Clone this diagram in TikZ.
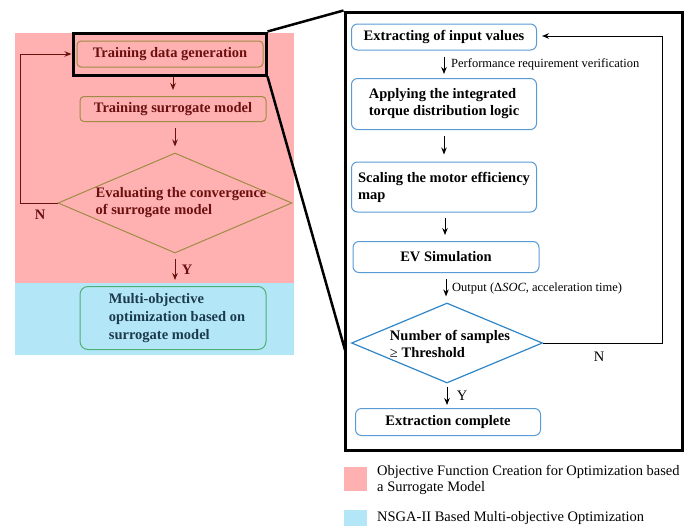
\documentclass[tikz,border=0pt]{standalone}
\usepackage{fontspec}
\setmainfont{Liberation Serif}
\usetikzlibrary{shapes.geometric,arrows.meta,calc}
\definecolor{pinkbg}{HTML}{FFB1B1}
\definecolor{bluebg}{HTML}{B3E6F7}
\definecolor{darkred}{HTML}{6B0F0F}
\definecolor{oliveb}{HTML}{A08B45}
\definecolor{greenb}{HTML}{4DB074}
\definecolor{navytext}{HTML}{1B3A4B}
\definecolor{blueb}{HTML}{5B9BD5}
\definecolor{blued}{HTML}{2F86C8}
\tikzset{
  bigfont/.style={font=\bfseries\fontsize{14.5}{17}\selectfont},
  smallfont/.style={font=\fontsize{12.5}{14}\selectfont},
  lbox/.style={draw=oliveb, fill=pinkbg, rounded corners=4pt, line width=1pt, text=darkred, bigfont, inner sep=2pt},
  gbox/.style={draw=greenb, fill=bluebg, rounded corners=8pt, line width=1pt, inner sep=0pt},
  ldiam/.style={diamond, draw=oliveb, fill=pinkbg, line width=1pt, inner sep=0pt},
  rbox/.style={draw=blueb, fill=white, rounded corners=6pt, line width=1pt, text=black, bigfont, align=left, inner sep=2pt},
  rdiam/.style={diamond, draw=blued, fill=white, line width=1.2pt, inner sep=0pt},
  larr/.style={draw=darkred, line width=1pt, -{Stealth[length=7pt,width=5.5pt]}},
  rarr/.style={draw=black, line width=1pt, -{Stealth[length=7pt,width=5.5pt]}},
  zoomframe/.style={draw=black, line width=3pt, inner sep=0pt},
}
\begin{document}
\begin{tikzpicture}[x=1pt,y=-1pt]
\useasboundingbox (0,0) rectangle (684,525);
% background regions
\fill[pinkbg] (15,33) rectangle (294,283);
\fill[bluebg] (15,283) rectangle (294,355);

% left flow
\node[lbox, minimum width=186pt, minimum height=26pt] (tdg) at (170,54) {Training data generation};
\node[lbox, minimum width=186pt, minimum height=25pt] (tsm) at (173,109) {Training surrogate model};
\node[ldiam, minimum width=234pt, minimum height=100pt] (eval) at (175,203) {};
\node[bigfont, text=darkred, align=left, inner sep=0pt] (evalt) at (181,203) {Evaluating the convergence\\of surrogate model};
\node[gbox, minimum width=186pt, minimum height=63pt] (moo) at (173,318) {};
\node[bigfont, text=navytext, align=left, inner sep=0pt, font=\bfseries\fontsize{14.5}{18}\selectfont] (moot) at (177,318) {Multi-objective\\optimization based on\\surrogate model};

\draw[larr, shorten <=8pt, shorten >=6pt] (tdg.south -| tsm.north) -- (tsm.north);
\draw[larr, shorten <=6pt, shorten >=6pt] (tsm.south -| eval.north) -- (eval.north);
\draw[larr, shorten <=5pt, shorten >=6pt] (eval.south) -- (moo.north -| eval.south) node[midway, right=3pt, bigfont, text=darkred] (ly) {Y};
\coordinate (lloop) at (20,54);
\draw[larr, shorten >=5pt] (eval.west) -| (lloop) -- (tdg.west);
\node[bigfont, text=darkred] (ln) at (40,215) {N};

% zoom frames
\node[zoomframe, minimum width=193pt, minimum height=42pt] (zf) at (169.5,54) {};
\node[zoomframe, minimum width=337pt, minimum height=438pt] (big) at (513.5,231) {};
\coordinate (bw) at (345,350);
\draw[line width=2.5pt] (zf.north east) -- (big.north west);
\draw[line width=2.5pt] (zf.south east) -- (bw);

% right flow
\node[rbox, minimum width=185pt, minimum height=26pt] (ext) at (444,37) {Extracting of input values};
\node[rbox, minimum width=185pt, minimum height=51pt] (app) at (444,104) {Applying the integrated\\torque distribution logic};
\node[rbox, minimum width=185pt, minimum height=50pt] (scl) at (444,187) {Scaling the motor efficiency\\map};
\node[rbox, minimum width=186pt, minimum height=31pt] (evs) at (446,257) {EV Simulation};
\node[rdiam, minimum width=191pt, minimum height=80pt] (num) at (447,343) {};
\node[bigfont, align=left, inner sep=0pt] (numt) at (450,344) {Number of samples\\{\mdseries ≥} Threshold};
\node[rbox, minimum width=185pt, minimum height=27pt] (done) at (448,422) {Extraction complete};

\draw[rarr, shorten <=6pt, shorten >=4pt] (ext.south -| 444,0) -- (app.north -| 444,0);
\node[smallfont, anchor=west, inner sep=0pt] (prv) at (451,64) {Performance requirement verification};
\draw[rarr, shorten <=6pt, shorten >=7pt] (app.south -| 444,0) -- (scl.north -| 444,0);
\draw[rarr, shorten <=5pt, shorten >=6pt] (scl.south -| 445,0) -- (evs.north -| 445,0);
\draw[rarr, shorten <=6pt, shorten >=6pt] (evs.south) -- (num.north -| evs.south);
\node[smallfont, anchor=west, inner sep=0pt] (outl) at (452,288) {Output (Δ\textit{SOC}, acceleration time)};
\draw[rarr, shorten <=3pt, shorten >=3pt] (num.south) -- (done.north -| num.south) node[midway, right=6pt, font=\fontsize{14.5}{17}\selectfont] (ry) {Y};
\coordinate (rloop) at (662,36);
\draw[rarr, shorten >=5pt] (num.east) -| (rloop) -- (ext.east |- rloop);
\node[font=\fontsize{14.5}{17}\selectfont] (rn) at (599,357) {N};

% legend
\node[fill=pinkbg, minimum width=23pt, minimum height=24pt, inner sep=0pt] (lg1) at (355.5,479) {};
\node[anchor=west, align=left, inner sep=0pt, font=\fontsize{14.5}{16.5}\selectfont] (lt1) at (377,480) {Objective Function Creation for Optimization based\\a Surrogate Model};
\node[fill=bluebg, minimum width=23pt, minimum height=24pt, inner sep=0pt] (lg2) at (355.5,522) {};
\node[anchor=west, inner sep=0pt, font=\fontsize{14.5}{16.5}\selectfont] (lt2) at (377,518) {NSGA-II Based Multi-objective Optimization};
\end{tikzpicture}
\end{document}
